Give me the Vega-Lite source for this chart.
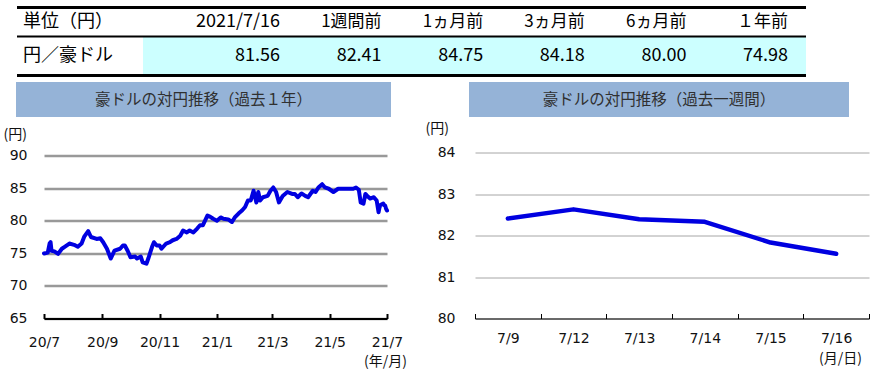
{
  "$schema": "https://vega.github.io/schema/vega-lite/v6.json",
  "padding": {"left": 3, "top": 5.5, "right": 0, "bottom": 0},
  "background": "white",
  "config": {
    "view": {"stroke": null},
    "font": "Noto Sans CJK JP",
    "axis": {"labelFont": "DejaVu Sans", "labelFontSize": 14, "labelColor": "#111", "titleFont": "Noto Sans CJK JP", "titleFontSize": 14, "titleFontWeight": "normal", "titleColor": "#111"},
    "text": {"font": "Noto Sans CJK JP", "color": "#000"}
  },
  "datasets": {
    "blank": [],
    "cells": [
      {"row": "h", "col": "label", "text": "単位（円）"},
      {"row": "h", "col": "c1", "text": "2021/7/16"},
      {"row": "h", "col": "c2", "text": "1週間前"},
      {"row": "h", "col": "c3", "text": "1ヵ月前"},
      {"row": "h", "col": "c4", "text": "3ヵ月前"},
      {"row": "h", "col": "c5", "text": "6ヵ月前"},
      {"row": "h", "col": "c6", "text": "１年前"},
      {"row": "d", "col": "label", "text": "円／豪ドル"},
      {"row": "d", "col": "c1", "value": 81.56},
      {"row": "d", "col": "c2", "value": 82.41},
      {"row": "d", "col": "c3", "value": 84.75},
      {"row": "d", "col": "c4", "value": 84.18},
      {"row": "d", "col": "c5", "value": 80.00},
      {"row": "d", "col": "c6", "value": 74.98}
    ],
    "rows": [{"row": "h"}, {"row": "d"}],
    "week": [
      {"day": "7/9", "rate": 82.41},
      {"day": "7/12", "rate": 82.63},
      {"day": "7/13", "rate": 82.39},
      {"day": "7/14", "rate": 82.33},
      {"day": "7/15", "rate": 81.83},
      {"day": "7/16", "rate": 81.56}
    ],
    "year": [
      {"date": "2020-07-16", "rate": 74.98},
      {"date": "2020-07-20", "rate": 75.1},
      {"date": "2020-07-22", "rate": 76.5},
      {"date": "2020-07-23", "rate": 76.7},
      {"date": "2020-07-24", "rate": 75.4},
      {"date": "2020-07-27", "rate": 75.3},
      {"date": "2020-07-31", "rate": 74.9},
      {"date": "2020-08-04", "rate": 75.7},
      {"date": "2020-08-07", "rate": 76.0},
      {"date": "2020-08-12", "rate": 76.5},
      {"date": "2020-08-17", "rate": 76.3},
      {"date": "2020-08-21", "rate": 76.0},
      {"date": "2020-08-25", "rate": 76.5},
      {"date": "2020-08-28", "rate": 77.6},
      {"date": "2020-09-01", "rate": 78.4},
      {"date": "2020-09-04", "rate": 77.5},
      {"date": "2020-09-10", "rate": 77.2},
      {"date": "2020-09-14", "rate": 77.3},
      {"date": "2020-09-17", "rate": 76.7},
      {"date": "2020-09-21", "rate": 75.7},
      {"date": "2020-09-25", "rate": 74.2},
      {"date": "2020-09-29", "rate": 75.4},
      {"date": "2020-10-05", "rate": 75.7},
      {"date": "2020-10-08", "rate": 76.2},
      {"date": "2020-10-10", "rate": 76.2},
      {"date": "2020-10-13", "rate": 75.4},
      {"date": "2020-10-16", "rate": 74.4},
      {"date": "2020-10-21", "rate": 74.5},
      {"date": "2020-10-23", "rate": 74.2},
      {"date": "2020-10-27", "rate": 74.5},
      {"date": "2020-10-29", "rate": 73.6},
      {"date": "2020-11-02", "rate": 73.4},
      {"date": "2020-11-04", "rate": 74.2},
      {"date": "2020-11-08", "rate": 76.0},
      {"date": "2020-11-10", "rate": 76.7},
      {"date": "2020-11-13", "rate": 76.2},
      {"date": "2020-11-16", "rate": 76.2},
      {"date": "2020-11-18", "rate": 75.7},
      {"date": "2020-11-23", "rate": 76.5},
      {"date": "2020-11-27", "rate": 76.7},
      {"date": "2020-11-30", "rate": 77.0},
      {"date": "2020-12-04", "rate": 77.2},
      {"date": "2020-12-08", "rate": 77.7},
      {"date": "2020-12-11", "rate": 78.5},
      {"date": "2020-12-15", "rate": 78.2},
      {"date": "2020-12-18", "rate": 78.5},
      {"date": "2020-12-22", "rate": 78.2},
      {"date": "2020-12-26", "rate": 78.8},
      {"date": "2020-12-29", "rate": 79.3},
      {"date": "2021-01-01", "rate": 79.3},
      {"date": "2021-01-06", "rate": 80.8},
      {"date": "2021-01-09", "rate": 80.6},
      {"date": "2021-01-12", "rate": 80.3},
      {"date": "2021-01-16", "rate": 80.0},
      {"date": "2021-01-20", "rate": 80.5},
      {"date": "2021-01-23", "rate": 80.3},
      {"date": "2021-01-28", "rate": 80.2},
      {"date": "2021-02-01", "rate": 79.8},
      {"date": "2021-02-04", "rate": 80.5},
      {"date": "2021-02-08", "rate": 81.1},
      {"date": "2021-02-12", "rate": 81.6},
      {"date": "2021-02-15", "rate": 82.1},
      {"date": "2021-02-18", "rate": 83.1},
      {"date": "2021-02-21", "rate": 83.1},
      {"date": "2021-02-24", "rate": 84.6},
      {"date": "2021-02-27", "rate": 82.8},
      {"date": "2021-03-01", "rate": 84.4},
      {"date": "2021-03-03", "rate": 83.1},
      {"date": "2021-03-06", "rate": 83.6},
      {"date": "2021-03-11", "rate": 83.8},
      {"date": "2021-03-14", "rate": 84.6},
      {"date": "2021-03-17", "rate": 85.1},
      {"date": "2021-03-20", "rate": 84.4},
      {"date": "2021-03-23", "rate": 82.8},
      {"date": "2021-03-27", "rate": 83.8},
      {"date": "2021-04-01", "rate": 84.4},
      {"date": "2021-04-06", "rate": 84.1},
      {"date": "2021-04-09", "rate": 84.1},
      {"date": "2021-04-12", "rate": 83.6},
      {"date": "2021-04-16", "rate": 84.18},
      {"date": "2021-04-20", "rate": 83.8},
      {"date": "2021-04-23", "rate": 83.6},
      {"date": "2021-04-28", "rate": 84.6},
      {"date": "2021-05-01", "rate": 84.4},
      {"date": "2021-05-04", "rate": 85.1},
      {"date": "2021-05-08", "rate": 85.6},
      {"date": "2021-05-11", "rate": 85.1},
      {"date": "2021-05-15", "rate": 84.9},
      {"date": "2021-05-20", "rate": 84.4},
      {"date": "2021-05-25", "rate": 84.9},
      {"date": "2021-05-31", "rate": 84.9},
      {"date": "2021-06-05", "rate": 84.9},
      {"date": "2021-06-10", "rate": 84.9},
      {"date": "2021-06-13", "rate": 85.1},
      {"date": "2021-06-16", "rate": 84.75},
      {"date": "2021-06-18", "rate": 82.8},
      {"date": "2021-06-21", "rate": 82.6},
      {"date": "2021-06-23", "rate": 84.1},
      {"date": "2021-06-25", "rate": 83.8},
      {"date": "2021-06-28", "rate": 83.4},
      {"date": "2021-07-02", "rate": 83.6},
      {"date": "2021-07-05", "rate": 83.1},
      {"date": "2021-07-07", "rate": 81.3},
      {"date": "2021-07-08", "rate": 82.0},
      {"date": "2021-07-09", "rate": 82.41},
      {"date": "2021-07-12", "rate": 82.62},
      {"date": "2021-07-13", "rate": 82.39},
      {"date": "2021-07-14", "rate": 82.33},
      {"date": "2021-07-15", "rate": 81.83},
      {"date": "2021-07-16", "rate": 81.56}
    ]
  },
  "vconcat": [
    {
      "vconcat": [
        {
          "hconcat": [
            {"width": 14, "height": 1, "data": {"name": "blank"}, "mark": "text", "encoding": {"text": {"field": "t"}}},
            {
              "width": 126, "height": 28,
              "layer": [
                {
                  "data": {"name": "cells"},
                  "transform": [{"filter": "datum.row === 'h' && datum.col === 'label'"}],
                  "mark": {"type": "text", "align": "left", "dx": 6, "fontSize": 18},
                  "encoding": {
                    "x": {"field": "col", "type": "nominal", "bandPosition": 0, "scale": {"type": "band", "paddingInner": 0, "paddingOuter": 0}, "axis": null},
                    "y": {"field": "row", "type": "nominal", "scale": {"type": "band", "domain": ["h"], "paddingInner": 0, "paddingOuter": 0}, "axis": null},
                    "text": {"field": "text"}
                  }
                },
                {
                  "data": {"name": "rows"},
                  "transform": [{"filter": "datum.row === 'h'"}],
                  "mark": {"type": "rule", "color": "#000", "strokeWidth": 3},
                  "encoding": {
                    "y": {"field": "row", "type": "nominal", "bandPosition": 0, "scale": {"type": "band", "domain": ["h"], "paddingInner": 0, "paddingOuter": 0}, "axis": null}
                  }
                }
              ]
            },
            {
              "width": 663, "height": 28,
              "layer": [
                {
                  "data": {"name": "cells"},
                  "transform": [{"filter": "datum.row === 'h' && datum.col !== 'label'"}],
                  "mark": {"type": "text", "align": "right"},
                  "encoding": {
                    "x": {"field": "col", "type": "nominal", "bandPosition": 1, "scale": {"type": "band", "domain": ["c1", "c2", "c3", "c4", "c5", "c6"], "paddingInner": 0, "paddingOuter": 0.2628, "align": 0.663}, "axis": null},
                    "y": {"field": "row", "type": "nominal", "scale": {"type": "band", "domain": ["h"], "paddingInner": 0, "paddingOuter": 0}, "axis": null},
                    "text": {"field": "text"},
                    "size": {"condition": {"test": "datum.col === 'c1'", "value": 18}, "value": 17}
                  }
                },
                {
                  "data": {"name": "rows"},
                  "transform": [{"filter": "datum.row === 'h'"}],
                  "mark": {"type": "rule", "color": "#000", "strokeWidth": 3},
                  "encoding": {
                    "y": {"field": "row", "type": "nominal", "bandPosition": 0, "scale": {"type": "band", "domain": ["h"], "paddingInner": 0, "paddingOuter": 0}, "axis": null}
                  }
                }
              ]
            }
          ],
          "spacing": 0, "bounds": "flush"
        },
        {
          "hconcat": [
            {"width": 14, "height": 1, "data": {"name": "blank"}, "mark": "text", "encoding": {"text": {"field": "t"}}},
            {
              "width": 126, "height": 39,
              "layer": [
                {
                  "data": {"name": "cells"},
                  "transform": [{"filter": "datum.row === 'd' && datum.col === 'label'"}],
                  "mark": {"type": "text", "align": "left", "dx": 6, "fontSize": 18},
                  "encoding": {
                    "x": {"field": "col", "type": "nominal", "bandPosition": 0, "scale": {"type": "band", "paddingInner": 0, "paddingOuter": 0}, "axis": null},
                    "y": {"field": "row", "type": "nominal", "scale": {"type": "band", "domain": ["d"], "paddingInner": 0, "paddingOuter": 0}, "axis": null},
                    "text": {"field": "text"}
                  }
                },
                {
                  "data": {"name": "rows"},
                  "transform": [{"filter": "datum.row === 'd'"}],
                  "mark": {"type": "rule", "color": "#000", "strokeWidth": 2},
                  "encoding": {
                    "y": {"field": "row", "type": "nominal", "bandPosition": 0, "scale": {"type": "band", "domain": ["d"], "paddingInner": 0, "paddingOuter": 0}, "axis": null}
                  }
                },
                {
                  "data": {"name": "rows"},
                  "transform": [{"filter": "datum.row === 'd'"}],
                  "mark": {"type": "rule", "color": "#000", "strokeWidth": 3},
                  "encoding": {
                    "y": {"field": "row", "type": "nominal", "bandPosition": 1, "scale": {"type": "band", "domain": ["d"], "paddingInner": 0, "paddingOuter": 0}, "axis": null}
                  }
                }
              ]
            },
            {
              "width": 663, "height": 39,
              "view": {"fill": "#CCFFFF", "stroke": null},
              "layer": [
                {
                  "data": {"name": "cells"},
                  "transform": [{"filter": "datum.row === 'd' && datum.col !== 'label'"}],
                  "mark": {"type": "text", "align": "right", "fontSize": 18},
                  "encoding": {
                    "x": {"field": "col", "type": "nominal", "bandPosition": 1, "scale": {"type": "band", "domain": ["c1", "c2", "c3", "c4", "c5", "c6"], "paddingInner": 0, "paddingOuter": 0.2628, "align": 0.663}, "axis": null},
                    "y": {"field": "row", "type": "nominal", "scale": {"type": "band", "domain": ["d"], "paddingInner": 0, "paddingOuter": 0}, "axis": null},
                    "text": {"field": "value", "type": "quantitative", "format": ".2f"}
                  }
                },
                {
                  "data": {"name": "rows"},
                  "transform": [{"filter": "datum.row === 'd'"}],
                  "mark": {"type": "rule", "color": "#000", "strokeWidth": 2},
                  "encoding": {
                    "y": {"field": "row", "type": "nominal", "bandPosition": 0, "scale": {"type": "band", "domain": ["d"], "paddingInner": 0, "paddingOuter": 0}, "axis": null}
                  }
                },
                {
                  "data": {"name": "rows"},
                  "transform": [{"filter": "datum.row === 'd'"}],
                  "mark": {"type": "rule", "color": "#000", "strokeWidth": 3},
                  "encoding": {
                    "y": {"field": "row", "type": "nominal", "bandPosition": 1, "scale": {"type": "band", "domain": ["d"], "paddingInner": 0, "paddingOuter": 0}, "axis": null}
                  }
                }
              ]
            }
          ],
          "spacing": 0, "bounds": "flush"
        }
      ],
      "spacing": 0, "bounds": "full"
    },
    {
      "hconcat": [
        {"width": 13, "height": 1, "data": {"name": "blank"}, "mark": "text", "encoding": {"text": {"field": "t"}}},
        {
          "width": 375, "height": 35,
          "view": {"fill": "#95B3D7", "stroke": null},
          "data": {"values": [{"title": "豪ドルの対円推移（過去１年）"}]},
          "mark": {"type": "text", "fontSize": 15.5, "color": "#303030"},
          "encoding": {"text": {"field": "title"}}
        },
        {"width": 78, "height": 1, "data": {"name": "blank"}, "mark": "text", "encoding": {"text": {"field": "t"}}},
        {
          "width": 380, "height": 35,
          "view": {"fill": "#95B3D7", "stroke": null},
          "data": {"values": [{"title": "豪ドルの対円推移（過去一週間）"}]},
          "mark": {"type": "text", "fontSize": 15.5, "color": "#303030"},
          "encoding": {"text": {"field": "title"}}
        }
      ],
      "spacing": 0, "bounds": "flush"
    },
    {
      "hconcat": [
        {"width": 41, "height": 1, "data": {"name": "blank"}, "mark": "text", "encoding": {"text": {"field": "t"}}},
        {
          "width": 343, "height": 166,
          "data": {"name": "year"},
          "mark": {"type": "line", "color": "#0000E0", "strokeWidth": 4, "strokeJoin": "round", "strokeCap": "round"},
          "encoding": {
            "x": {
              "field": "date", "type": "temporal",
              "scale": {"type": "utc", "domain": [{"year": 2020, "month": 7, "date": 16, "utc": true}, {"year": 2021, "month": 7, "date": 16, "utc": true}]},
              "axis": {
                "values": [
                  {"year": 2020, "month": 7, "date": 16, "utc": true},
                  {"year": 2020, "month": 9, "date": 16, "utc": true},
                  {"year": 2020, "month": 11, "date": 16, "utc": true},
                  {"year": 2021, "month": 1, "date": 16, "utc": true},
                  {"year": 2021, "month": 3, "date": 16, "utc": true},
                  {"year": 2021, "month": 5, "date": 16, "utc": true},
                  {"year": 2021, "month": 7, "date": 16, "utc": true}
                ],
                "format": "%y/%-m", "grid": false,
                "domainColor": "#000", "domainWidth": 2,
                "tickColor": "#000", "tickWidth": 2, "tickSize": -5,
                "labelPadding": 22, "labelFlush": false, "labelOverlap": false,
                "title": "(年/月)", "titleX": 341, "titleY": 43, "titleAlign": "center", "titleBaseline": "middle", "titleAnchor": null
              }
            },
            "y": {
              "field": "rate", "type": "quantitative",
              "scale": {"domain": [65, 90.46], "nice": false, "zero": false},
              "axis": {
                "values": [65, 70, 75, 80, 85, 90],
                "grid": true, "gridColor": "#999999", "gridWidth": 2.5,
                "domain": false, "ticks": false, "labelPadding": 17,
                "title": "(円)", "titleAngle": 0, "titleX": -41, "titleY": -18, "titleAlign": "left", "titleBaseline": "middle", "titleAnchor": null
              }
            }
          }
        },
        {"width": 88, "height": 1, "data": {"name": "blank"}, "mark": "text", "encoding": {"text": {"field": "t"}}},
        {
          "width": 394, "height": 166,
          "data": {"name": "week"},
          "mark": {"type": "line", "color": "#0000E0", "strokeWidth": 4.5, "strokeJoin": "round", "strokeCap": "round"},
          "encoding": {
            "x": {
              "field": "day", "type": "nominal", "sort": null, "bandPosition": 0.5,
              "scale": {"type": "band", "paddingInner": 0, "paddingOuter": 0},
              "axis": {
                "labelAngle": 0, "tickBand": "extent", "grid": false,
                "domainColor": "#000", "domainWidth": 1,
                "tickColor": "#000", "tickWidth": 1, "tickSize": -5,
                "labelPadding": 18,
                "title": "(月/日)", "titleX": 365, "titleY": 40, "titleAlign": "center", "titleBaseline": "middle", "titleAnchor": null
              }
            },
            "y": {
              "field": "rate", "type": "quantitative",
              "scale": {"domain": [80, 84], "nice": false, "zero": false},
              "axis": {
                "values": [80, 81, 82, 83, 84],
                "grid": true, "gridColor": "#A6A6A6", "gridWidth": 1,
                "domain": false, "ticks": false, "labelPadding": 20,
                "title": "(円)", "titleAngle": 0, "titleX": -50, "titleY": -24, "titleAlign": "left", "titleBaseline": "middle", "titleAnchor": null
              }
            }
          }
        }
      ],
      "spacing": 0, "bounds": "flush"
    }
  ],
  "spacing": 4.5,
  "bounds": "full"
}
